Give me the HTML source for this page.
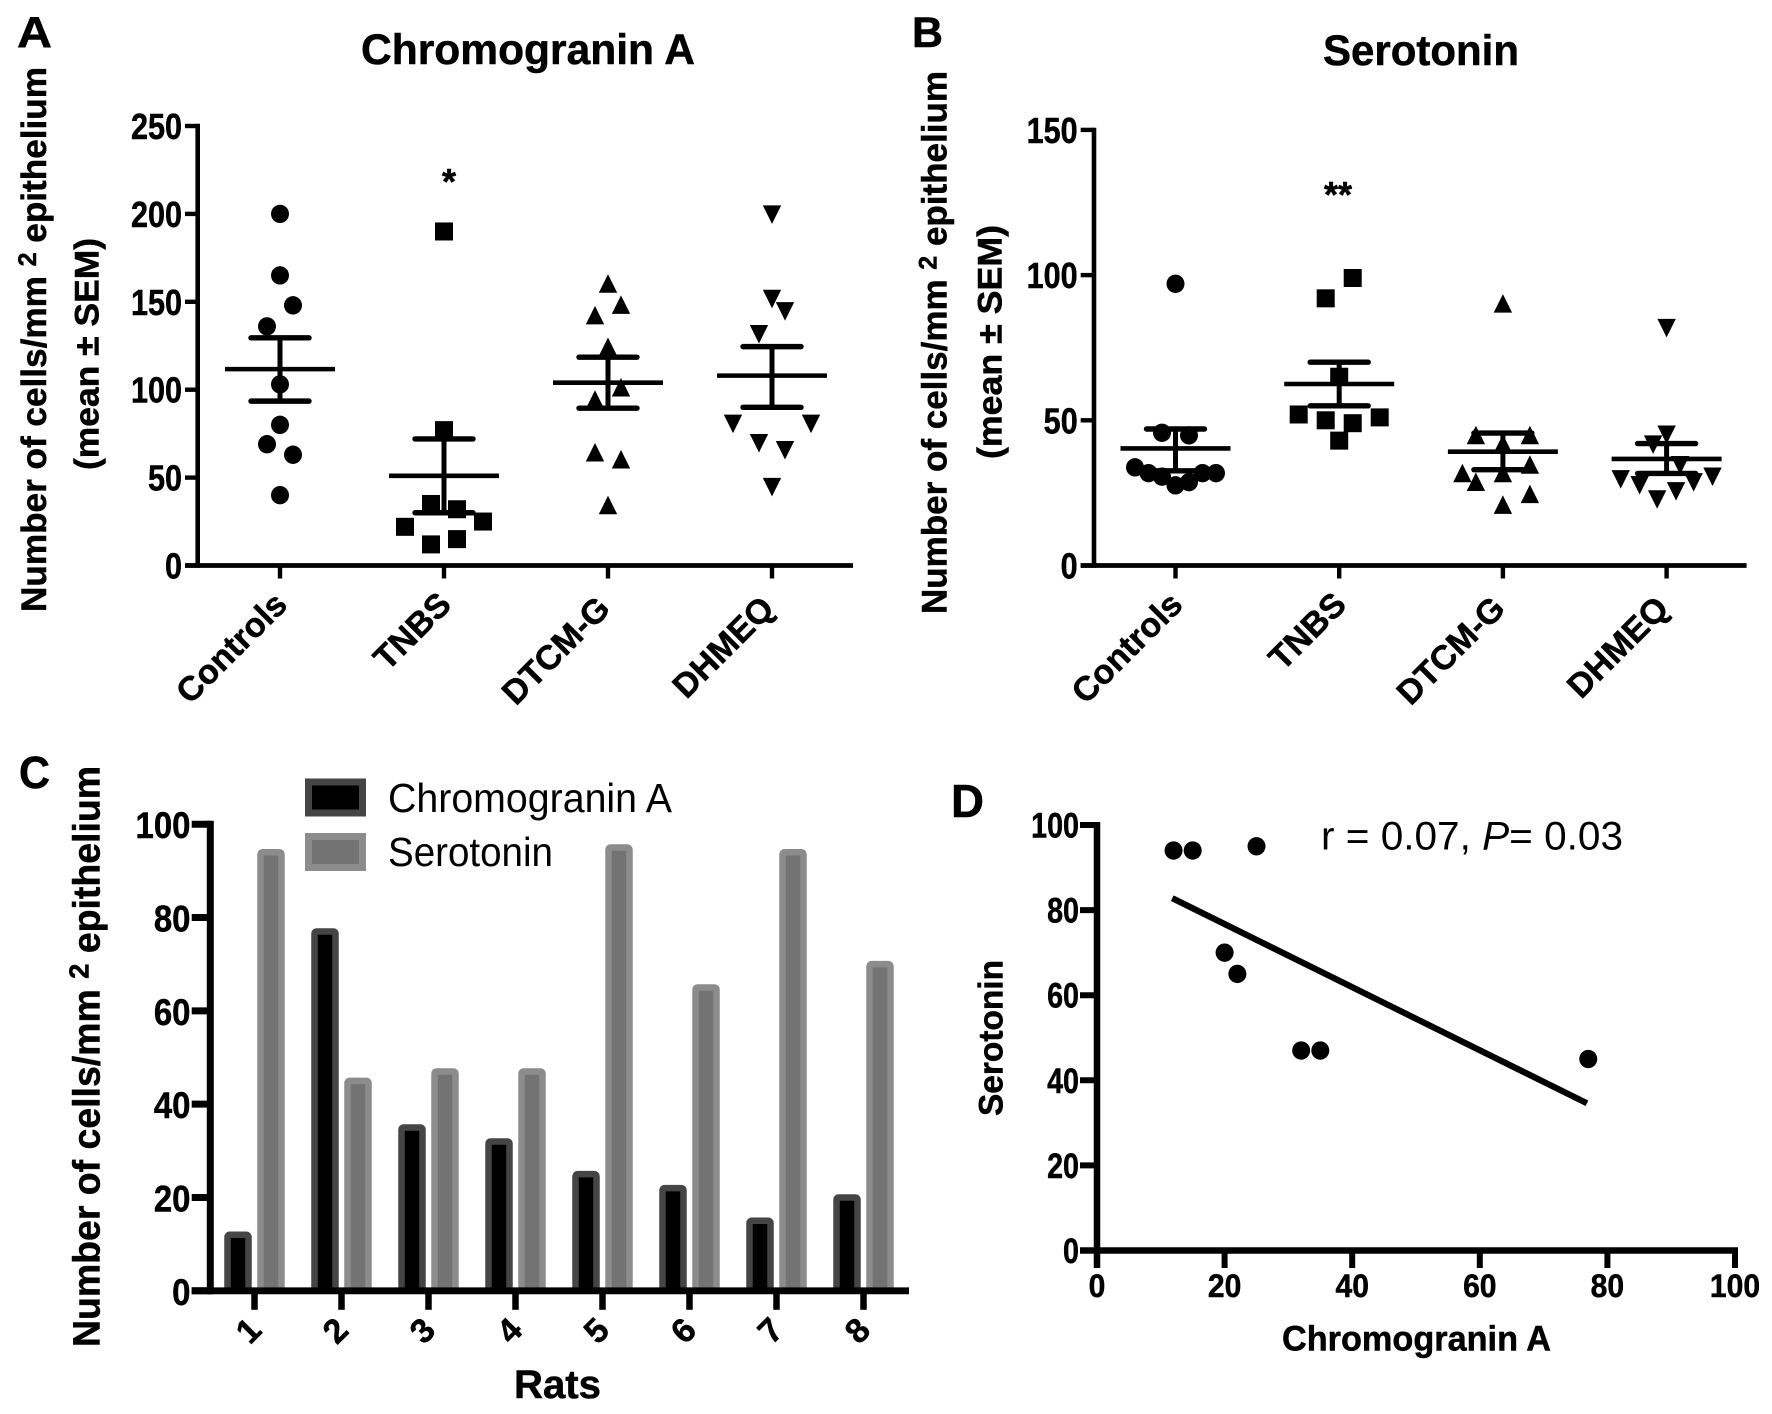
<!DOCTYPE html>
<html lang="en">
<head>
<meta charset="utf-8">
<title>Chromogranin A and Serotonin cell counts</title>
<style>
html,body{margin:0;padding:0;background:#fff;}
svg{display:block;}
text{font-family:"Liberation Sans",sans-serif;fill:#000;}
.b{font-weight:700;stroke:#000;stroke-width:0.5;}
</style>
</head>
<body>
<svg id="figure" xmlns="http://www.w3.org/2000/svg" width="1772" height="1414" viewBox="0 0 1772 1414">
<rect x="0" y="0" width="1772" height="1414" fill="#fff"/>

<text class="b" x="17" y="47" font-size="44" textLength="35" lengthAdjust="spacingAndGlyphs">A</text>
<text class="b" x="912" y="47" font-size="43" textLength="31" lengthAdjust="spacingAndGlyphs">B</text>
<text class="b" x="19" y="788" font-size="45" textLength="31" lengthAdjust="spacingAndGlyphs">C</text>
<text class="b" x="951" y="817" font-size="46" textLength="33" lengthAdjust="spacingAndGlyphs">D</text>

<text class="b" x="361" y="64" font-size="43" textLength="334" lengthAdjust="spacingAndGlyphs">Chromogranin A</text>
<text class="b" x="1323" y="65" font-size="43" textLength="196" lengthAdjust="spacingAndGlyphs">Serotonin</text>

<text class="b" transform="translate(46,612) rotate(-90)" font-size="35" textLength="545" lengthAdjust="spacingAndGlyphs">Number of cells/mm <tspan font-size="25" dy="-10">2</tspan><tspan dy="10"> epithelium</tspan></text>
<text class="b" transform="translate(98.7,470) rotate(-90)" font-size="34" textLength="232" lengthAdjust="spacingAndGlyphs">(mean ± SEM)</text>
<text class="b" transform="translate(946.4,614) rotate(-90)" font-size="35" textLength="543" lengthAdjust="spacingAndGlyphs">Number of cells/mm <tspan font-size="25" dy="-10">2</tspan><tspan dy="10"> epithelium</tspan></text>
<text class="b" transform="translate(1001.7,459) rotate(-90)" font-size="34" textLength="234" lengthAdjust="spacingAndGlyphs">(mean ± SEM)</text>
<text class="b" transform="translate(99.5,1347) rotate(-90)" font-size="38" textLength="581" lengthAdjust="spacingAndGlyphs">Number of cells/mm <tspan font-size="28" dy="-11">2</tspan><tspan dy="11"> epithelium</tspan></text>
<text class="b" x="514" y="1398" font-size="40" textLength="87" lengthAdjust="spacingAndGlyphs">Rats</text>
<text class="b" transform="translate(1002.6,1116) rotate(-90)" font-size="34" textLength="156" lengthAdjust="spacingAndGlyphs">Serotonin</text>
<text class="b" x="1282" y="1350.5" font-size="35" textLength="269" lengthAdjust="spacingAndGlyphs">Chromogranin A</text>

<text class="b" x="449" y="194" font-size="36" text-anchor="middle">*</text>
<text class="b" x="1338" y="207" font-size="36" text-anchor="middle">**</text>

<text x="1321" y="849.6" font-size="40" textLength="302" lengthAdjust="spacingAndGlyphs">r = 0.07, <tspan font-style="italic">P</tspan>= 0.03</text>

<g id="chart-a"></g>
<g id="chart-b"></g>
<g id="chart-c"></g>
<g id="chart-d"></g>

<g>
  <g>
    <rect x="308.5" y="782" width="54" height="31" fill="#000" stroke="#454545" stroke-width="7"/>
    <text x="388" y="812" font-size="41" textLength="284" lengthAdjust="spacingAndGlyphs">Chromogranin A</text>
  </g>
  <g>
    <rect x="308.5" y="836.5" width="54" height="31" fill="#737373" stroke="#8c8c8c" stroke-width="7"/>
    <text x="388" y="866" font-size="41" textLength="165" lengthAdjust="spacingAndGlyphs">Serotonin</text>
  </g>
</g>
</svg>

<script>
// ---- shared categories ----
const groupLabels = ["Controls", "TNBS", "DTCM-G", "DHMEQ"];
const groupMarkers = ["circle", "square", "triangle-up", "triangle-down"];

// ---- Panel A: Chromogranin A ----
const aTicks = [0, 50, 100, 150, 200, 250];
const aControls = [200, 165, 148, 136, 103, 80, 69, 63, 40];
const aControlsSlots = [0, 0, 1, -1, 0, 0, -1, 1, 0];
const aTnbs = [190, 77, 35, 32, 25, 22, 15, 12];
const aTnbsSlots = [0, 0, -1, 1, 3, -3, 1, -1];
const aDtcm = [160, 148, 142, 124, 101, 94, 64, 60, 34];
const aDtcmSlots = [0, 1, -1, 0, 1, -1, -1, 1, 0];
const aDhmeq = [200, 152, 145, 132, 81, 81, 70, 66, 45];
const aDhmeqSlots = [0, 0, 1, -1, -3, 3, -1, 1, 0];
const aMeans = [111.7, 51, 104, 108];
const aSemHigh = [129.5, 72, 118.5, 124.5];
const aSemLow = [93.5, 30, 89.5, 90];

// ---- Panel B: Serotonin ----
const bTicks = [0, 50, 100, 150];
const bControls = [97, 45.7, 44.8, 33.8, 31.8, 30.6, 27.6, 28.7, 31.8, 31.8];
const bControlsSlots = [0, -1, 1, -3, -2, -1, 0, 1, 2, 3];
const bTnbs = [99, 92, 65, 52, 51, 50, 49, 43];
const bTnbsSlots = [1, -1, 0, -3, 3, -1, 1, 0];
const bDtcm = [90, 44.7, 44.7, 41.7, 34.5, 31.6, 28.6, 31.6, 24.4, 20.7];
const bDtcmSlots = [0, -2, 2, 0, 2, -3, -2, 0, 2, 0];
const bDhmeq = [82, 45.3, 41.9, 34.8, 29.9, 30.8, 27.9, 28.9, 25.8, 23];
const bDhmeqSlots = [0, 0, -1, 1, -3.4, 3.4, -2, 2, 0.7, -0.7];
const bMeans = [40.3, 62.5, 39.2, 36.7];
const bSemHigh = [47, 70, 45.6, 42];
const bSemLow = [32.6, 55, 33, 31.7];

// ---- Panel C: per-rat bars ----
const ratLabels = ["1", "2", "3", "4", "5", "6", "7", "8"];
const cTicks = [0, 20, 40, 60, 80, 100];
const cChromogranin = [12, 77, 35, 32, 25, 22, 15, 20];
const cSerotonin = [94, 45, 47, 47, 95, 65, 94, 70];

// ---- Panel D: correlation scatter ----
const dTicks = [0, 20, 40, 60, 80, 100];
const dChromogranin = [12, 15, 25, 20, 22, 32, 35, 77];
const dSerotonin = [94, 94, 95, 70, 65, 47, 47, 45];
const dTrendX = [11.8, 76.8];
const dTrendY = [82.8, 34.6];

const NS = "http://www.w3.org/2000/svg";
function svgEl(parent, tag, attrs) {
  const node = document.createElementNS(NS, tag);
  for (const k in attrs) node.setAttribute(k, attrs[k]);
  parent.appendChild(node);
  return node;
}

function drawLine(parent, name, x1, y1, x2, y2, width, cap) {
  const el = svgEl(parent, "line", {x1: x1, y1: y1, x2: x2, y2: y2, stroke: "#000", "stroke-width": width, "stroke-linecap": cap || "butt"});
  
  
  return el;
}

function drawLabel(parent, name, text, x, y, size, anchor, sx, rot) {
  const el = svgEl(parent, "text", {
    transform: "translate(" + x + "," + y + ") rotate(" + (rot || 0) + ") scale(" + (sx || 1) + ",1)",
    "font-size": size,
    "text-anchor": anchor,
    "class": "b"
  });
  el.textContent = text;
  
  
  return el;
}

function drawMarker(parent, name, kind, cx, cy) {
  let el;
  if (kind === "circle") {
    el = svgEl(parent, "ellipse", {cx: cx, cy: cy, rx: 9, ry: 9.2, fill: "#000"});
  } else if (kind === "square") {
    el = svgEl(parent, "rect", {x: cx - 9, y: cy - 9, width: 18, height: 18, fill: "#000"});
  } else if (kind === "triangle-up") {
    el = svgEl(parent, "polygon", {points: [cx, cy - 10, cx + 9.2, cy + 8.5, cx - 9.2, cy + 8.5].join(" "), fill: "#000"});
  } else {
    el = svgEl(parent, "polygon", {points: [cx - 9.2, cy - 8.5, cx + 9.2, cy - 8.5, cx, cy + 10].join(" "), fill: "#000"});
  }
  
  
  return el;
}

function drawDotPanel(opts) {
  const g = document.getElementById(opts.id);
  const y = opts.y, x = opts.x;
  const top = opts.ticks[opts.ticks.length - 1];
  // axes
  drawLine(g, "y-axis-line", opts.axisX, y(top) - 2.2, opts.axisX, y(0) + 2.2, 4.6);
  drawLine(g, "x-axis-line", opts.axisLeft, y(0), opts.axisRight, y(0), 4.8);
  opts.ticks.forEach(function (t) {
    drawLine(g, "y-tick", opts.axisLeft, y(t), opts.axisX, y(t), 4.4);
    drawLabel(g, "y-tick-label", String(t), opts.axisLeft - 3, y(t) + 13, 36, "end", 0.85);
  });
  groupLabels.forEach(function (label, i) {
    const cx = x(i);
    const dx = i >= 2 ? -5 : 0;
    const dy = i >= 2 ? 7 : 3;
    drawLine(g, "x-tick", cx, y(0), cx, y(0) + 13, 4.4);
    drawLabel(g, "x-tick-label", label, cx + 9 + dx, y(0) + 38 + dy, 34, "end", 1, -45);
    // points
    const vals = opts.series[i], slots = opts.slots[i];
    vals.forEach(function (v, j) {
      drawMarker(g, label.toLowerCase() + "-point", groupMarkers[i], cx + slots[j] * opts.slotSize, y(v));
    });
    // mean and SEM
    drawLine(g, "mean-line", cx - 55, y(opts.means[i]), cx + 55, y(opts.means[i]), 4.6);
    drawLine(g, "sem-stem", cx, y(opts.hi[i]), cx, y(opts.lo[i]), 5);
    drawLine(g, "sem-cap-high", cx - 29, y(opts.hi[i]), cx + 29, y(opts.hi[i]), 5.4, "round");
    drawLine(g, "sem-cap-low", cx - 29, y(opts.lo[i]), cx + 29, y(opts.lo[i]), 5.4, "round");
  });
}

drawDotPanel({
  id: "chart-a",
  ticks: aTicks,
  x: function (i) { return 280 + 164 * i; },
  y: function (v) { return 565.5 - 1.758 * v; },
  axisX: 197.7, axisLeft: 185, axisRight: 853, slotSize: 13,
  series: [aControls, aTnbs, aDtcm, aDhmeq],
  slots: [aControlsSlots, aTnbsSlots, aDtcmSlots, aDhmeqSlots],
  means: aMeans, hi: aSemHigh, lo: aSemLow
});

drawDotPanel({
  id: "chart-b",
  ticks: bTicks,
  x: function (i) { return 1175.5 + 163.7 * i; },
  y: function (v) { return 565.5 - 2.904 * v; },
  axisX: 1094, axisLeft: 1080.7, axisRight: 1746.6, slotSize: 13.5,
  series: [bControls, bTnbs, bDtcm, bDhmeq],
  slots: [bControlsSlots, bTnbsSlots, bDtcmSlots, bDhmeqSlots],
  means: bMeans, hi: bSemHigh, lo: bSemLow
});

// Panel C
(function () {
  const g = document.getElementById("chart-c");
  const x = function (i) { return 254.5 + 87 * i; };
  const y = function (v) { return 1290.8 - 4.666 * v; };
  function bar(name, value, left, fill, stroke) {
    const el = svgEl(g, "rect", {x: left, y: y(value), width: 21, height: y(0) - y(value), fill: fill, stroke: stroke, "stroke-width": 6.5, rx: 2});
    
    
  }
  ratLabels.forEach(function (label, i) {
    bar("bar-chromogranin-rat-" + label, cChromogranin[i], x(i) - 27, "#000", "#454545");
    bar("bar-serotonin-rat-" + label, cSerotonin[i], x(i) + 6, "#737373", "#8c8c8c");
  });
  drawLine(g, "y-axis-line", 210.3, y(100) - 3.5, 210.3, y(0) + 3.5, 7);
  drawLine(g, "x-axis-line", 191.7, y(0), 909, y(0), 6.8);
  cTicks.forEach(function (t) {
    drawLine(g, "y-tick", 191.7, y(t), 210.3, y(t), 7);
    drawLabel(g, "y-tick-label", String(t), 190.5, y(t) + 14, 37, "end", 0.89);
  });
  ratLabels.forEach(function (label, i) {
    drawLine(g, "x-tick", x(i), y(0), x(i), y(0) + 19, 6.5);
    drawLabel(g, "x-tick-label", label, x(i) + 2, y(0) + 48, 34, "middle", 1, -45);
  });
})();

// Panel D
(function () {
  const g = document.getElementById("chart-d");
  const x = function (v) { return 1097 + 6.38 * v; };
  const y = function (v) { return 1250.5 - 4.255 * v; };
  drawLine(g, "y-axis-line", x(0), y(100) - 3, x(0), y(0) + 17.5, 6.5);
  drawLine(g, "x-axis-line", 1080, y(0), x(100) + 3, y(0), 6.5);
  dTicks.forEach(function (t) {
    drawLine(g, "y-tick", 1080, y(t), x(0), y(t), 6);
    drawLabel(g, "y-tick-label", String(t), 1079, y(t) + 12.5, 35, "end", 0.82);
    drawLine(g, "x-tick", x(t), y(0), x(t), y(0) + 17.5, 6);
    drawLabel(g, "x-tick-label", String(t), x(t), 1297, 32, "middle", 0.94);
  });
  drawLine(g, "trend-line", x(dTrendX[0]), y(dTrendY[0]), x(dTrendX[1]), y(dTrendY[1]), 6.2);
  dChromogranin.forEach(function (c, i) {
    drawMarker(g, "scatter-point", "circle", x(c), y(dSerotonin[i]));
  });
})();
</script>
</body>
</html>
